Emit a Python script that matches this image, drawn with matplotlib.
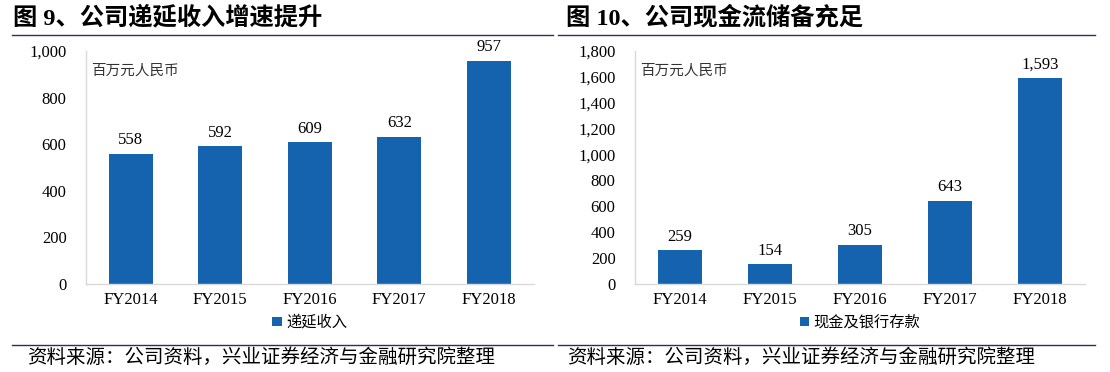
import numpy as np
import matplotlib.pyplot as plt
from matplotlib.lines import Line2D

years = ["FY2014", "FY2015", "FY2016", "FY2017", "FY2018"]
deferred_rev = [558, 592, 609, 632, 957]
cash = [259, 154, 305, 643, 1593]

BLUE = "#1563AF"
NAVY = "#2A2E66"
SERIF = ["Liberation Serif", "Noto Sans CJK SC"]
CJK = ["Noto Sans CJK SC", "DejaVu Sans"]


def draw(ax, vals, ymax, legend_name):
    x = np.arange(len(years))
    bars = ax.bar(x, vals, width=0.49, color=BLUE, label=legend_name)
    for xi, v in zip(x, vals):
        ax.annotate(f"{v:,}", (xi, v), xytext=(0, 4), textcoords="offset points",
                    ha="center", va="bottom", fontsize=12, family=SERIF)
    ax.set_xlim(-0.5, len(years) - 0.5)
    ax.set_ylim(0, ymax)
    ax.set_yticks(np.arange(0, ymax + 1, 200))
    ax.set_yticklabels([f"{t:,}" for t in np.arange(0, ymax + 1, 200)])
    ax.set_xticks(x)
    ax.set_xticklabels(years)
    for lab in ax.get_xticklabels() + ax.get_yticklabels():
        lab.set_family(SERIF)
        lab.set_fontsize(12)
    ax.tick_params(axis="both", length=0)
    ax.tick_params(axis="x", pad=6)
    ax.tick_params(axis="y", pad=14)
    for s in ["top", "right"]:
        ax.spines[s].set_visible(False)
    for s in ["left", "bottom"]:
        ax.spines[s].set_color("#D9D9D9")
        ax.spines[s].set_linewidth(1.0)
    ax.text(0.012, 0.915, "百万元人民币", transform=ax.transAxes, fontsize=10.5,
            family=CJK, color="#333333", va="center")
    ax.legend(handles=[bars], loc="center", bbox_to_anchor=(0.5, -0.165), frameon=False,
              handlelength=0.6, handleheight=0.6, handletextpad=0.3,
              prop={"family": CJK, "size": 11})


fig = plt.figure(figsize=(11.1, 3.72), dpi=100)
ax1 = fig.add_axes([86 / 1110, 1 - 284 / 372, 447.5 / 1110, 233 / 372])
ax2 = fig.add_axes([635 / 1110, 1 - 284 / 372, 450 / 1110, 233 / 372])

draw(ax1, deferred_rev, 1000, "递延收入")
draw(ax2, cash, 1800, "现金及银行存款")

# titles, rules and source notes
fig.text(13 / 1110, 1 - 18 / 372, "图 9、公司递延收入增速提升", fontsize=17.5,
         fontweight="bold", family=SERIF, va="center")
fig.text(566 / 1110, 1 - 18 / 372, "图 10、公司现金流储备充足", fontsize=17.5,
         fontweight="bold", family=SERIF, va="center")
for x0, x1 in [(12, 553), (558, 1095)]:
    for y in [35, 345]:
        fig.add_artist(Line2D([x0 / 1110, x1 / 1110], [1 - y / 372, 1 - y / 372],
                              color=NAVY, lw=1.0, transform=fig.transFigure))
fig.text(27 / 1110, 1 - 357 / 372, "资料来源：公司资料，兴业证券经济与金融研究院整理",
         fontsize=14, family=CJK, va="center")
fig.text(567 / 1110, 1 - 357 / 372, "资料来源：公司资料，兴业证券经济与金融研究院整理",
         fontsize=14, family=CJK, va="center")

fig.savefig("out.png", dpi=100)
